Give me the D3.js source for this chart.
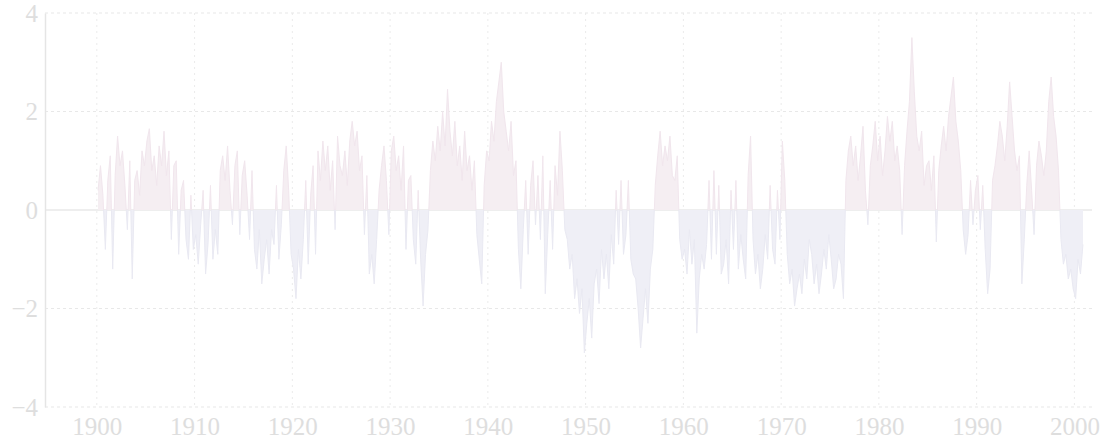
<!DOCTYPE html>
<html>
<head>
<meta charset="utf-8">
<script src="https://cdn.jsdelivr.net/npm/d3@7"></script>
<style>
  html, body { margin: 0; padding: 0; background: #ffffff; }
  svg { display: block; }
  .tick text { font-family: "Liberation Serif", "DejaVu Serif", serif; font-size: 25px; fill: #dedede; }
</style>
</head>
<body>
<svg id="chart" width="1115" height="442"></svg>
<script>
// Seasonal (quarterly) index values, one row of four per year, grouped by decade.
const startYear = 1900;
const perYear = 4;

const values1900s = [
  0.4, 0.9, 0.3, -0.8,
  0.6, 1.1, -1.2, 0.7,
  1.5, 0.9, 1.2, 0.5,
  -0.4, 1.0, -1.4, 0.6,
  0.8, 0.3, 1.2, 0.9,
  1.4, 1.65, 0.8, 1.1,
  0.5, 1.3, 0.9, 1.6,
  0.7, 1.2, -0.6, 0.9,
  1.0, -0.9, 0.4, 0.6,
  -0.6, -1.0, 0.3, -0.8
];
const values1910s = [
  -0.5, -1.1, -0.3, 0.4,
  -1.3, -0.7, 0.5, -1.0,
  -0.4, -0.9, 0.8, 1.1,
  0.6, 1.3, 0.4, -0.3,
  0.9, 1.2, -0.5, 0.7,
  1.0, 0.3, -0.6, 0.8,
  -0.8, -1.2, -0.4, -1.5,
  -1.0, -0.6, -1.3, -0.4,
  -0.7, 0.5, -1.0, -0.3,
  0.8, 1.3, 0.4, -0.9
];
const values1920s = [
  -1.2, -1.8, -0.8, -1.4,
  -0.6, 0.6, -1.1, 0.3,
  0.9, -0.9, 1.2, 0.6,
  1.4, 0.8, 1.3, 0.4,
  1.0, -0.4, 1.5, 0.9,
  0.7, 1.2, 0.5, 1.4,
  1.8, 1.3, 1.6, 0.8,
  1.1, -0.5, 0.7, -1.3,
  -0.9, -1.5, -0.6, 0.4,
  0.9, 1.3, 0.6, -0.5
];
const values1930s = [
  1.2, 1.5, 0.8, 1.1,
  0.4, 1.3, -0.8, 0.6,
  0.7, -0.6, -1.1, 0.4,
  -1.0, -1.95, -0.9, -0.4,
  0.8, 1.4, 1.0, 1.7,
  1.2, 2.0, 1.3, 2.45,
  1.6, 1.1, 1.8, 0.9,
  1.3, 0.6, 1.6, 0.8,
  1.1, 0.4, 1.0, -0.5,
  -1.0, -1.5, 0.5, 1.2
];
const values1940s = [
  1.0, 1.8, 1.4, 2.2,
  2.6, 3.0, 2.0, 1.6,
  1.2, 1.8, 0.7, 1.0,
  -0.8, -1.6, -0.4, 0.6,
  -0.9, 0.5, 1.0, -0.3,
  0.7, -0.6, 1.1, -1.7,
  -0.5, 0.6, -0.8, 0.9,
  0.3, 1.6, 0.8, -0.4,
  -0.6, -1.2, -0.9, -1.8,
  -1.4, -2.1, -1.6, -2.9
];
const values1950s = [
  -2.3, -1.8, -2.6, -1.5,
  -1.2, -1.9, -0.8, -1.4,
  -0.9, -1.6, -0.5, -1.1,
  0.4, -0.7, 0.6, -0.9,
  -0.5, 0.6, -1.0, -1.3,
  -1.4, -2.0, -2.8, -2.2,
  -1.6, -2.3, -1.2, -0.8,
  0.5, 1.1, 1.6, 0.9,
  1.3, 1.0, 1.5, 0.7,
  0.6, 1.1, -0.6, -1.0
];
const values1960s = [
  -0.8, -1.3, -0.4, -1.1,
  -0.6, -2.5, -1.4, -0.9,
  -1.2, -0.7, 0.6, -1.0,
  0.8, -0.9, 0.5, -1.3,
  -1.1, -0.6, -1.5, 0.4,
  -0.8, 0.6, -1.2, -0.5,
  -1.0, -1.4, 0.7, 1.5,
  -0.6, -1.3, -0.9, -1.6,
  -1.2, -0.5, -1.0, 0.5,
  -0.8, -1.1, 0.4, -0.6
];
const values1970s = [
  1.4, 0.6, -0.9, -1.5,
  -1.2, -1.95, -1.6, -1.3,
  -1.7, -1.0, -1.4, -0.6,
  -0.9, -1.5, -1.1, -1.7,
  -1.3, -0.8, -1.2, -0.5,
  -1.0, -1.6, -1.4, -0.9,
  -1.1, -1.8, 0.6, 1.2,
  1.5, 0.9, 1.3, 0.6,
  1.1, 1.7, 0.4, -0.3,
  0.9, 1.3, 1.8, 1.0
];
const values1980s = [
  1.5, 0.7, 1.2, 1.9,
  1.4, 1.8, 1.0, 1.3,
  0.8, -0.5, 0.9, 1.6,
  2.2, 3.5, 2.4, 1.5,
  1.2, 1.6, 0.5, 0.9,
  1.0, 0.4, 1.1, -0.65,
  0.8, 1.3, 1.7, 1.2,
  1.9, 2.3, 2.7, 1.8,
  1.4, 0.8, -0.4, -0.9,
  -0.5, 0.6, -0.3, 0.4
];
const values1990s = [
  0.7, -0.4, 0.5, -0.8,
  -1.7, -1.2, 0.6, 0.9,
  1.3, 1.8, 1.5, 1.0,
  1.7, 2.6, 1.9, 1.2,
  0.8, 1.1, -1.5, -0.6,
  0.5, 1.2, 0.4, -0.5,
  0.9, 1.4, 1.1, 0.7,
  1.2, 2.2, 2.7, 1.9,
  1.5, 0.8, -0.6, -1.1,
  -0.9, -1.4, -1.2, -1.6
];
const values2000 = [
  -1.8, -1.0, -1.3, -0.7
];

const xTickYears = [1900, 1910, 1920, 1930, 1940, 1950, 1960, 1970, 1980, 1990, 2000];
const yTickValues = [-4, -2, 0, 2, 4];

const indexValues = [].concat(values1900s, values1910s, values1920s, values1930s,
  values1940s, values1950s, values1960s, values1970s, values1980s, values1990s, values2000);

const series = indexValues.map((v, i) => ({ t: startYear + (i + 0.5) / perYear, v }));

// ---- layout ----
const svg = d3.select("#chart");
const plotLeft = 45, plotRight = 1092, plotTop = 13, plotBottom = 407;

const x = d3.scaleLinear().domain([1894.7, 2001.8]).range([plotLeft, plotRight]);
const y = d3.scaleLinear().domain([-4, 4]).range([plotBottom, plotTop]);

// grid
const grid = svg.append("g").attr("class", "grid");
grid.selectAll("line.v")
  .data(xTickYears)
  .join("line")
  .attr("class", "v")
  .attr("x1", d => x(d)).attr("x2", d => x(d))
  .attr("y1", plotTop).attr("y2", plotBottom)
  .attr("stroke", "#ebebeb")
  .attr("stroke-width", 1)
  .attr("stroke-dasharray", "2,4");

grid.selectAll("line.h")
  .data(yTickValues)
  .join("line")
  .attr("class", "h")
  .attr("x1", plotLeft).attr("x2", plotRight)
  .attr("y1", d => y(d)).attr("y2", d => y(d))
  .attr("stroke", "#e8e8e8")
  .attr("stroke-width", d => d === 0 ? 1.5 : 1.2)
  .attr("stroke-dasharray", d => d === 0 ? null : "3,3");

// filled index, split at zero
const defs = svg.append("defs");
defs.append("clipPath").attr("id", "clipPos")
  .append("rect").attr("x", plotLeft).attr("y", plotTop)
  .attr("width", plotRight - plotLeft).attr("height", y(0) - plotTop);
defs.append("clipPath").attr("id", "clipNeg")
  .append("rect").attr("x", plotLeft).attr("y", y(0))
  .attr("width", plotRight - plotLeft).attr("height", plotBottom - y(0));

const area = d3.area()
  .x(d => x(d.t))
  .y0(y(0))
  .y1(d => y(d.v))
  .curve(d3.curveLinear);

const line = d3.line()
  .x(d => x(d.t))
  .y(d => y(d.v))
  .curve(d3.curveLinear);

svg.append("path")
  .datum(series)
  .attr("clip-path", "url(#clipPos)")
  .attr("d", area)
  .attr("fill", "#f5eef2");
svg.append("path")
  .datum(series)
  .attr("clip-path", "url(#clipNeg)")
  .attr("d", area)
  .attr("fill", "#efeff6");

svg.append("path")
  .datum(series)
  .attr("clip-path", "url(#clipPos)")
  .attr("d", line)
  .attr("fill", "none")
  .attr("stroke", "#f1e6ed")
  .attr("stroke-width", 1);
svg.append("path")
  .datum(series)
  .attr("clip-path", "url(#clipNeg)")
  .attr("d", line)
  .attr("fill", "none")
  .attr("stroke", "#e9e9f2")
  .attr("stroke-width", 1);

// axes
const yAxis = d3.axisLeft(y)
  .tickValues(yTickValues)
  .tickSize(0)
  .tickPadding(7)
  .tickFormat(d => d < 0 ? "\u2212" + Math.abs(d) : String(d));
const gy = svg.append("g").attr("transform", `translate(${plotLeft},0)`).call(yAxis);
gy.select(".domain").attr("stroke", "#e5e5e5").attr("stroke-width", 1.5);

const xAxis = d3.axisBottom(x)
  .tickValues(xTickYears)
  .tickSize(0)
  .tickPadding(10)
  .tickFormat(d3.format("d"));
const gx = svg.append("g").attr("transform", `translate(0,${plotBottom})`).call(xAxis);
gx.select(".domain").remove();
</script>
</body>
</html>
